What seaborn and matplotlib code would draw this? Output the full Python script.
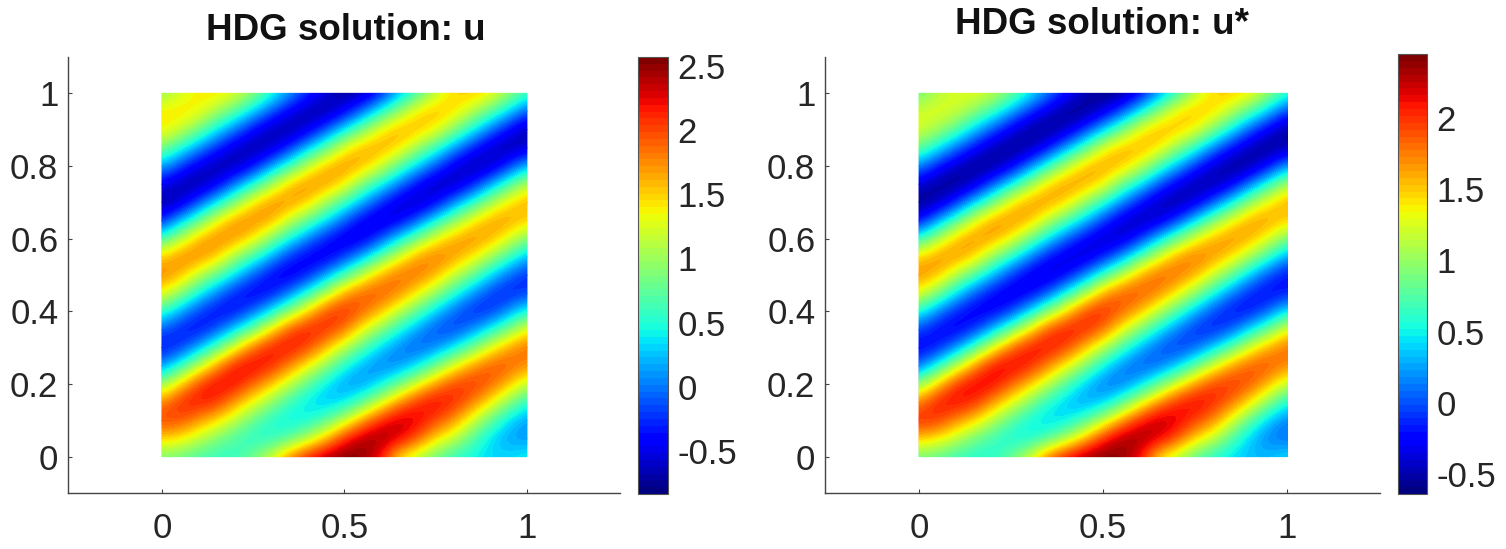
import matplotlib
matplotlib.use("Agg")
import matplotlib.pyplot as plt
from matplotlib.patches import Rectangle
import numpy as np
import seaborn as sns

W, H = 1506, 549
TXT = "#262626"

x_ticks = [0, 0.5, 1]
x_labels = ["0", "0.5", "1"]
y_ticks = [0, 0.2, 0.4, 0.6, 0.8, 1]
y_labels = ["0", "0.2", "0.4", "0.6", "0.8", "1"]
cbar_ticks = [-0.5, 0, 0.5, 1, 1.5, 2, 2.5]
cbar_labels = ["-0.5", "0", "0.5", "1", "1.5", "2", "2.5"]

# colour read at x = 0, 0.05, ... 1 (one list per x), y = 0, 0.05, ... 1 inside
u_cols = [
    [.85,1.5,2.02,1.78,.96,.07,-.38,-.1,.59,1.38,1.8,1.54,.6,-.32,-.76,-.48,.19,.92,1.42,1.42,.95],
    [.78,1.4,1.98,2.14,1.51,.58,-.25,-.34,.16,.95,1.62,1.8,1.12,.23,-.62,-.7,-.2,.52,1.2,1.48,1.2],
    [.65,1.14,1.7,2.2,2.05,1.15,.2,-.42,-.2,.44,1.16,1.78,1.63,.73,-.15,-.74,-.54,.11,.85,1.38,1.4],
    [.57,.87,1.45,2.08,2.28,1.72,.74,-.15,-.42,.03,.76,1.55,1.81,1.34,.36,-.5,-.72,-.28,.4,1.06,1.45],
    [.58,.65,1.11,1.68,2.22,2.22,1.34,.33,-.4,-.32,.31,1.02,1.73,1.73,.9,0,-.7,-.6,0,.72,1.3],
    [.85,.5,.76,1.31,1.88,2.28,1.9,.86,-.08,-.48,-.1,.6,1.42,1.8,1.46,.48,-.4,-.75,-.4,.3,.98],
    [1.25,.52,.5,.93,1.55,2.12,2.2,1.46,.41,-.38,-.44,.16,.9,1.66,1.76,1.04,.11,-.64,-.68,-.12,.55],
    [1.85,.73,.38,.57,1.13,1.76,2.22,2.01,.97,.01,-.54,-.27,.44,1.18,1.75,1.57,.61,-.27,-.75,-.48,.15],
    [2.2,1.12,.44,.34,.72,1.35,2.01,2.19,1.52,.55,-.34,-.5,.03,.76,1.52,1.78,1.18,.25,-.55,-.72,-.24],
    [2.45,1.58,.73,.22,.36,.93,1.58,2.11,2.03,1.1,.14,-.54,-.34,.34,1.06,1.71,1.62,.73,-.12,-.74,-.56],
    [2.57,2.14,1.18,.36,.1,.48,1.11,1.85,2.12,1.7,.67,-.24,-.57,-.08,.6,1.43,1.75,1.34,.37,-.46,-.74],
    [2.5,2.44,1.72,.74,.1,.15,.68,1.32,1.9,1.94,1.2,.21,-.55,-.48,.17,.86,1.61,1.64,.88,-.02,-.68],
    [2.15,2.5,2.15,1.26,.38,0,.28,.91,1.58,1.96,1.66,.76,-.15,-.63,-.26,.45,1.24,1.68,1.38,.49,-.33],
    [1.4,2.28,2.38,1.76,.83,.07,.01,.47,1.15,1.76,1.9,1.28,.37,-.5,-.58,0,.74,1.48,1.66,.98,.17],
    [1.1,1.94,2.28,2.12,1.3,.37,-.12,.11,.72,1.4,1.85,1.72,.86,-.1,-.68,-.41,.3,1.02,1.6,1.45,.62],
    [.75,1.45,2.0,2.26,1.75,.83,.04,-.16,.28,.98,1.62,1.84,1.36,.43,-.46,-.67,-.13,.6,1.37,1.61,1.13],
    [.55,1.15,1.72,2.12,2.05,1.32,.4,-.22,-.07,.52,1.2,1.72,1.66,.93,.03,-.67,-.53,.13,.92,1.5,1.47],
    [.42,.7,1.22,1.82,2.08,1.72,.84,.03,-.3,.11,.78,1.46,1.76,1.4,.51,-.38,-.72,-.29,.45,1.14,1.54],
    [.33,.32,.76,1.39,1.92,1.96,1.32,.46,-.26,-.22,.32,1.05,1.64,1.68,1.04,.14,-.65,-.63,0,.74,1.42],
    [.35,.12,.32,.93,1.56,1.95,1.7,.88,.08,-.35,-.05,.61,1.3,1.7,1.45,.64,-.26,-.74,-.42,.34,1.02],
    [.45,.1,.1,.5,1.13,1.72,1.9,1.38,.52,-.2,-.3,.19,.88,1.5,1.66,1.16,.24,-.59,-.7,-.13,.64],
]
ustar_cols = [
    [.85,1.5,2.05,1.75,.96,.07,-.3,-.05,.59,1.32,1.72,1.48,.6,-.26,-.62,-.39,.19,.86,1.26,1.22,.85],
    [.78,1.4,1.98,2.12,1.51,.58,-.2,-.28,.16,.92,1.57,1.72,1.09,.23,-.51,-.58,-.18,.49,1.07,1.3,1.09],
    [.65,1.14,1.7,2.15,2.02,1.15,.2,-.34,-.16,.44,1.13,1.7,1.56,.73,-.13,-.62,-.45,.11,.78,1.22,1.26],
    [.57,.87,1.45,2.04,2.2,1.7,.74,-.13,-.34,.03,.74,1.48,1.73,1.3,.36,-.42,-.6,-.24,.38,.97,1.3],
    [.58,.65,1.11,1.65,2.17,2.15,1.32,.33,-.33,-.26,.31,.99,1.65,1.66,.87,0,-.58,-.5,0,.67,1.18],
    [.85,.5,.76,1.31,1.84,2.2,1.85,.86,-.07,-.4,-.08,.59,1.36,1.72,1.4,.48,-.34,-.62,-.33,.28,.9],
    [1.25,.52,.5,.93,1.52,2.06,2.13,1.42,.41,-.32,-.36,.16,.88,1.58,1.68,1.0,.11,-.53,-.56,-.1,.53],
    [1.85,.73,.38,.57,1.13,1.72,2.14,1.95,.97,.01,-.44,-.22,.44,1.15,1.68,1.5,.61,-.23,-.62,-.4,.15],
    [2.15,1.12,.44,.34,.72,1.33,1.95,2.12,1.48,.55,-.28,-.41,.03,.74,1.46,1.7,1.14,.25,-.46,-.6,-.2],
    [2.38,1.56,.73,.22,.36,.93,1.55,2.06,1.97,1.08,.14,-.44,-.28,.34,1.03,1.64,1.56,.73,-.1,-.61,-.47],
    [2.45,2.07,1.18,.36,.1,.48,1.11,1.82,2.06,1.66,.67,-.2,-.47,-.07,.6,1.38,1.68,1.3,.37,-.38,-.62],
    [2.38,2.35,1.69,.74,.1,.15,.68,1.32,1.85,1.89,1.19,.21,-.45,-.4,.17,.85,1.55,1.58,.86,-.02,-.57],
    [2.1,2.38,2.09,1.26,.38,0,.28,.91,1.56,1.9,1.63,.76,-.13,-.52,-.22,.45,1.22,1.62,1.35,.49,-.28],
    [1.4,2.2,2.3,1.73,.83,.07,.01,.47,1.15,1.73,1.86,1.27,.37,-.42,-.48,0,.73,1.44,1.6,.97,.17],
    [1.1,1.9,2.2,2.06,1.29,.37,-.1,.11,.72,1.38,1.81,1.68,.86,-.08,-.56,-.34,.3,1.0,1.56,1.42,.62],
    [.75,1.45,1.95,2.18,1.71,.83,.04,-.13,.28,.98,1.59,1.8,1.33,.43,-.38,-.55,-.11,.6,1.34,1.58,1.12],
    [.55,1.15,1.7,2.05,1.99,1.3,.4,-.18,-.06,.52,1.2,1.68,1.63,.93,.03,-.55,-.44,.13,.9,1.48,1.46],
    [.42,.7,1.22,1.78,2.02,1.69,.84,.03,-.24,.11,.78,1.43,1.72,1.37,.51,-.32,-.6,-.24,.45,1.12,1.52],
    [.33,.32,.76,1.39,1.87,1.91,1.31,.46,-.21,-.18,.32,1.05,1.6,1.65,1.03,.14,-.54,-.52,0,.74,1.4],
    [.35,.12,.32,.93,1.54,1.9,1.66,.88,.08,-.29,-.04,.61,1.28,1.66,1.42,.64,-.22,-.61,-.35,.34,1.0],
    [.45,.1,.1,.5,1.13,1.69,1.85,1.36,.52,-.17,-.25,.19,.87,1.47,1.63,1.14,.24,-.49,-.58,-.11,.63],
]


def box(x0, y0, x1, y1):
    # pixel box (top left origin) to figure fractions
    return [x0 / W, 1 - y1 / H, (x1 - x0) / W, (y1 - y0) / H]


def panel(cols, title, vmin, vmax, ax_box, cax_box, xlim, title_x, title_y):
    ax = fig.add_axes(box(*ax_box))
    cax = fig.add_axes(box(*cax_box))
    grid = np.array(cols).T
    n = grid.shape[0] - 1
    cmap = plt.get_cmap("jet", 64)
    sns.heatmap(grid, ax=ax, cbar_ax=cax, cmap=cmap, vmin=vmin, vmax=vmax,
                xticklabels=False, yticklabels=False, shading="gouraud")
    # gouraud mixes rgb and goes muddy between blue and yellow, so smooth the values on top
    img = ax.imshow(grid, origin="lower", extent=(-0.5, n + 0.5, -0.5, n + 0.5), cmap=cmap,
                    vmin=vmin, vmax=vmax, interpolation="bicubic",
                    interpolation_stage="data", aspect="auto", zorder=2)
    img.set_clip_path(Rectangle((0, 0), n, n, transform=ax.transData))
    ax.set_xlim(xlim[0] * n, xlim[1] * n)
    ax.set_ylim(-0.1 * n, 1.1 * n)
    ax.set_xticks([t * n for t in x_ticks], x_labels)
    ax.set_yticks([t * n for t in y_ticks], y_labels)
    ax.tick_params(direction="in", length=3, width=0.8, color="#444444", labelcolor=TXT,
                   labelsize=25, bottom=True, left=True, top=False, right=False)
    ax.tick_params(axis="x", pad=14)
    ax.tick_params(axis="y", pad=7)
    sns.despine(ax=ax)
    for s in ["left", "bottom"]:
        ax.spines[s].set_visible(True)
        ax.spines[s].set_color("#444444")
        ax.spines[s].set_linewidth(1.0)
    fig.text(title_x / W, 1 - title_y / H, title, ha="center", va="center",
             fontsize=26.5, fontweight="bold", color="#111111")

    cb = ax.collections[0].colorbar
    ticks = [t for t in cbar_ticks if vmin <= t <= vmax]
    cb.set_ticks(ticks, labels=[cbar_labels[cbar_ticks.index(t)] for t in ticks])
    cb.ax.tick_params(direction="in", length=3, width=0.8, color=TXT, labelcolor=TXT,
                      labelsize=25, pad=7, right=True)
    cb.outline.set_linewidth(0.8)
    cb.outline.set_edgecolor("#555555")


sns.set_theme(style="white")
plt.rcParams["font.family"] = ["Liberation Sans", "DejaVu Sans"]
fig = plt.figure(figsize=(W / 100, H / 100), dpi=100)

panel(u_cols, "HDG solution: u", -0.835, 2.57, (68, 57, 620, 493), (638, 57, 668, 494),
      (-0.2575, 1.255), 346, 30)
panel(ustar_cols, "HDG solution: u*", -0.64, 2.45, (825, 57, 1380, 493), (1398, 54, 1427, 494),
      (-0.2555, 1.2525), 1102, 25)

fig.savefig("out.png", dpi=100, facecolor="white")
